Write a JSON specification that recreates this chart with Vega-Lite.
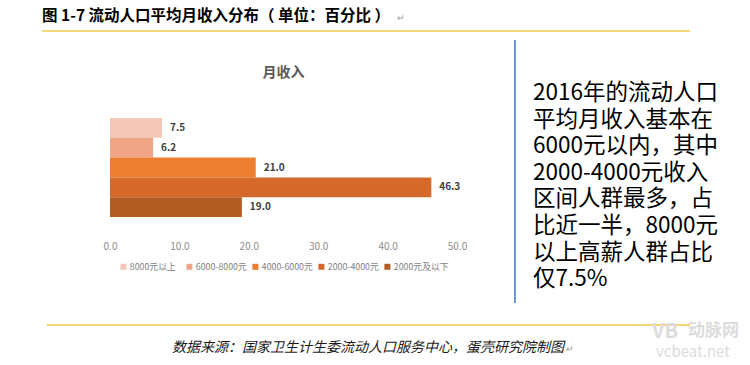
{
  "$schema": "https://vega.github.io/schema/vega-lite/v6.json",
  "width": 347,
  "height": 99,
  "autosize": {"type": "none"},
  "padding": {"left": 110, "top": 118, "right": 293, "bottom": 148},
  "background": "white",
  "config": {
    "view": {"stroke": null},
    "font": "Noto Sans CJK SC"
  },
  "layer": [
    {
      "data": {
        "values": [
          {"category": "8000元以上", "value": 7.5},
          {"category": "6000-8000元", "value": 6.2},
          {"category": "4000-6000元", "value": 21.0},
          {"category": "2000-4000元", "value": 46.3},
          {"category": "2000元及以下", "value": 19.0}
        ]
      },
      "layer": [
        {
          "mark": {"type": "bar"},
          "encoding": {
            "y": {
              "field": "category",
              "type": "nominal",
              "sort": ["8000元以上", "6000-8000元", "4000-6000元", "2000-4000元", "2000元及以下"],
              "scale": {"paddingInner": 0, "paddingOuter": 0},
              "axis": null
            },
            "x": {
              "field": "value",
              "type": "quantitative",
              "scale": {"domain": [0, 50], "nice": false},
              "axis": {
                "values": [0, 10, 20, 30, 40, 50],
                "format": ".1f",
                "domain": false,
                "ticks": false,
                "grid": false,
                "title": null,
                "labelFlush": false,
                "labelPadding": 24,
                "labelFontSize": 10,
                "labelColor": "#8c8c8c",
                "labelFont": "Noto Sans CJK SC"
              }
            },
            "color": {
              "field": "category",
              "type": "nominal",
              "sort": ["8000元以上", "6000-8000元", "4000-6000元", "2000-4000元", "2000元及以下"],
              "scale": {
                "domain": ["8000元以上", "6000-8000元", "4000-6000元", "2000-4000元", "2000元及以下"],
                "range": ["#f3c7b5", "#f0a586", "#ed7d31", "#d4692a", "#b15d22"]
              },
              "legend": {
                "orient": "none",
                "legendX": 9,
                "legendY": 144,
                "direction": "horizontal",
                "columns": 5,
                "gridAlign": "all",
                "columnPadding": 0,
                "symbolType": "square",
                "symbolSize": 36,
                "symbolStrokeWidth": 0,
                "labelFontSize": 8.8,
                "labelColor": "#7f7f7f",
                "labelOffset": 2,
                "labelFont": "Noto Sans CJK SC",
                "title": null
              }
            }
          }
        },
        {
          "mark": {"type": "text", "align": "left", "baseline": "middle", "dx": 8, "fontSize": 10, "fontWeight": "bold", "color": "#404040"},
          "encoding": {
            "y": {
              "field": "category",
              "type": "nominal",
              "sort": ["8000元以上", "6000-8000元", "4000-6000元", "2000-4000元", "2000元及以下"]
            },
            "x": {"field": "value", "type": "quantitative"},
            "text": {"field": "value", "type": "quantitative", "format": ".1f"}
          }
        }
      ]
    },
    {
      "data": {"values": [{}]},
      "layer": [
        {
          "mark": {"type": "text", "text": "月收入", "align": "center", "baseline": "middle", "fontSize": 14, "fontWeight": "bold", "color": "#595959"},
          "encoding": {"x": {"value": 173.5}, "y": {"value": -45}}
        },
        {
          "mark": {"type": "text", "text": "图 1-7 流动人口平均月收入分布（ 单位：百分比 ）", "align": "left", "baseline": "middle", "fontSize": 15.5, "fontWeight": "bold", "color": "#000000"},
          "encoding": {"x": {"value": -68}, "y": {"value": -102}}
        },
        {
          "mark": {"type": "text", "text": "↵", "align": "left", "baseline": "middle", "fontSize": 9, "color": "#9a9a9a"},
          "encoding": {"x": {"value": 287}, "y": {"value": -100}}
        },
        {
          "mark": {"type": "rule", "color": "#f2cf48", "strokeWidth": 1.5},
          "encoding": {"x": {"value": -68}, "x2": {"value": 580}, "y": {"value": -87}}
        },
        {
          "mark": {"type": "rule", "color": "#6a9bd1", "strokeWidth": 2},
          "encoding": {"x": {"value": 405}, "y": {"value": -78}, "y2": {"value": 185}}
        },
        {
          "mark": {
            "type": "text",
            "text": ["2016年的流动人口", "平均月收入基本在", "6000元以内，其中", "2000-4000元收入", "区间人群最多，占", "比近一半，8000元", "以上高薪人群占比", "仅7.5%"],
            "align": "left",
            "baseline": "alphabetic",
            "lineHeight": 26.6,
            "fontSize": 22.5,
            "color": "#000000"
          },
          "encoding": {"x": {"value": 423}, "y": {"value": -18}}
        },
        {
          "mark": {"type": "rule", "color": "#f5c443", "strokeWidth": 1.5},
          "encoding": {"x": {"value": -63}, "x2": {"value": 580}, "y": {"value": 207}}
        },
        {
          "mark": {"type": "text", "text": "数据来源：国家卫生计生委流动人口服务中心，蛋壳研究院制图", "align": "center", "baseline": "middle", "fontSize": 14, "fontStyle": "italic", "color": "#1a1a1a"},
          "encoding": {"x": {"value": 258}, "y": {"value": 230}}
        },
        {
          "mark": {"type": "text", "text": "↵", "align": "left", "baseline": "middle", "fontSize": 9, "color": "#9a9a9a"},
          "encoding": {"x": {"value": 456}, "y": {"value": 231}}
        },
        {
          "mark": {"type": "text", "text": "VB", "align": "left", "baseline": "middle", "fontSize": 20, "fontWeight": "bold", "color": "#dcdcdc"},
          "encoding": {"x": {"value": 542}, "y": {"value": 214}}
        },
        {
          "mark": {"type": "text", "text": "动脉网", "align": "left", "baseline": "middle", "fontSize": 17, "fontWeight": "bold", "color": "#dcdcdc"},
          "encoding": {"x": {"value": 578}, "y": {"value": 213}}
        },
        {
          "mark": {"type": "text", "text": "vcbeat.net", "align": "left", "baseline": "middle", "fontSize": 15, "color": "#dcdcdc"},
          "encoding": {"x": {"value": 546}, "y": {"value": 234}}
        }
      ]
    }
  ]
}
